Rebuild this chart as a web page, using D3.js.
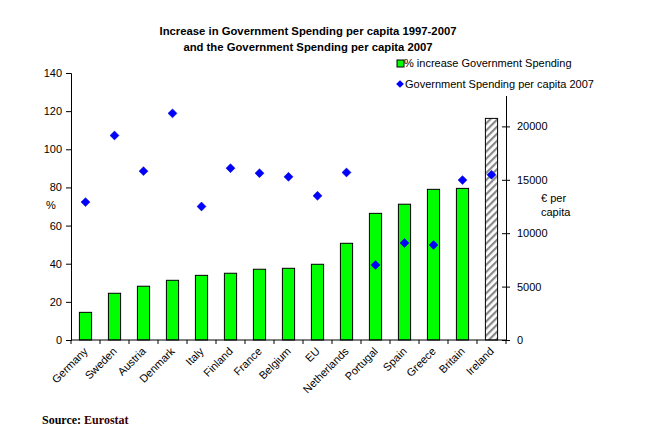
<!DOCTYPE html>
<html><head><meta charset="utf-8">
<script src="https://cdn.jsdelivr.net/npm/d3@7"></script>
<style>body{margin:0;background:#fff}svg{display:block}text{font-family:Arial,"Liberation Sans",sans-serif}</style>
</head><body><svg id="c" width="667" height="439"></svg>
<script>
const countries = ["Germany","Sweden","Austria","Denmark","Italy","Finland","France","Belgium","EU","Netherlands","Portugal","Spain","Greece","Britain","Ireland"];
const pctIncrease = [14.5,24.5,28.2,31.3,33.9,35.0,37.1,37.6,39.7,50.7,66.4,71.2,79.0,79.5,116.2];
const spendPerCapita = [12910,19150,15810,21220,12500,16090,15620,15280,13500,15690,7030,9090,8900,14970,15470];
const leftTicks = [0,20,40,60,80,100,120,140];
const rightTicks = [0,5000,10000,15000,20000];

const svg = d3.select("#c");
const x0 = 71, x1 = 506, yb = 340, yt = 73;
const x = d3.scaleBand().domain(countries).range([x0,x1]).paddingInner(0.58).paddingOuter(0.29);
const yL = d3.scaleLinear().domain([0,140]).range([yb,yt]);
const yR = d3.scaleLinear().domain([0,25000]).range([yb,yt]);

const defs = svg.append("defs");
const pat = defs.append("pattern").attr("id","hatch").attr("patternUnits","userSpaceOnUse")
  .attr("width",5).attr("height",5).attr("patternTransform","rotate(45)");
pat.append("rect").attr("width",5).attr("height",5).attr("fill","#fff");
pat.append("rect").attr("width",2.2).attr("height",5).attr("fill","#888");

// title
const title = svg.append("text").attr("text-anchor","middle").style("font-weight","bold").style("font-size","11.3px");
title.append("tspan").attr("x",308).attr("y",35).text("Increase in Government Spending per capita 1997-2007");
title.append("tspan").attr("x",308).attr("y",51).text("and the Government Spending per capita 2007");

// bars
svg.append("g").selectAll("rect").data(countries).join("rect")
  .attr("x",d=>x(d)).attr("width",x.bandwidth())
  .attr("y",(d,i)=>yL(pctIncrease[i])).attr("height",(d,i)=>yb-yL(pctIncrease[i]))
  .attr("fill",(d,i)=>d==="Ireland"?"url(#hatch)":"#00ff00")
  .attr("stroke","#000").attr("stroke-width",1);

// diamonds
const dsym = d3.symbol().type(d3.symbolSquare).size(40);
svg.append("g").selectAll("path").data(countries).join("path")
  .attr("d",dsym)
  .attr("transform",(d,i)=>`translate(${x(d)+x.bandwidth()/2},${yR(spendPerCapita[i])}) rotate(45)`)
  .attr("fill","#0000ff").attr("stroke","#0000cc").attr("stroke-width",0.5);

// axes
const axL = svg.append("g").attr("transform",`translate(${x0},0)`)
  .call(d3.axisLeft(yL).tickValues(leftTicks).tickSize(5).tickPadding(4));
const axR = svg.append("g").attr("transform",`translate(${x1},0)`)
  .call(d3.axisRight(yR).tickValues(rightTicks).tickSize(4).tickPadding(7).tickFormat(d3.format("d")));
axR.selectAll(".tick line").attr("x1",-4);
const xTickPos = d3.range(countries.length+1).map(i=>x0+i*(x1-x0)/countries.length);
const axB = svg.append("g");
axB.append("line").attr("x1",x0).attr("x2",x1).attr("y1",yb).attr("y2",yb).attr("stroke","#000");
axB.selectAll("line.t").data(xTickPos).join("line").attr("class","t")
  .attr("x1",d=>d).attr("x2",d=>d).attr("y1",yb).attr("y2",yb+4).attr("stroke","#000");
axB.selectAll("text").data(countries).join("text")
  .attr("text-anchor","end").style("font-size","11px")
  .attr("transform",d=>`translate(${x(d)+x.bandwidth()/2+3},${yb+12}) rotate(-45)`)
  .text(d=>d);
[axL,axR].forEach(a=>{
  a.select(".domain").attr("stroke","#000");
  a.selectAll(".tick line").attr("stroke","#000");
  a.selectAll("text").style("font-size","11px").attr("fill","#000").style("font-family","Arial,'Liberation Sans',sans-serif");
});

// axis titles
svg.append("text").attr("x",51).attr("y",209).attr("text-anchor","middle").style("font-size","11px").text("%");
const rt = svg.append("text").style("font-size","11px");
rt.append("tspan").attr("x",541).attr("y",202).text("€ per");
rt.append("tspan").attr("x",541).attr("y",216).text("capita");

// legend
const lg = svg.append("g");
lg.append("rect").attr("x",380).attr("y",55).attr("width",215).attr("height",41).attr("fill","#fff");
lg.append("rect").attr("x",397).attr("y",60).attr("width",7).attr("height",7).attr("fill","#00ff00").attr("stroke","#000");
lg.append("text").attr("x",404).attr("y",67).style("font-size","11px").text("% increase Government Spending");
lg.append("path").attr("d",d3.symbol().type(d3.symbolSquare).size(30)).attr("transform","translate(400,84) rotate(45)").attr("fill","#0000ff");
lg.append("text").attr("x",405).attr("y",88).style("font-size","11px").text("Government Spending per capita 2007");

// source
const src = svg.append("text").attr("x",42).attr("y",424).style("font-family","'Liberation Serif','Times New Roman',serif").style("font-weight","bold").style("font-size","12px");
src.append("tspan").text("Source: ");
src.append("tspan").attr("fill","#3a0000").text("Eurostat");
</script></body></html>
